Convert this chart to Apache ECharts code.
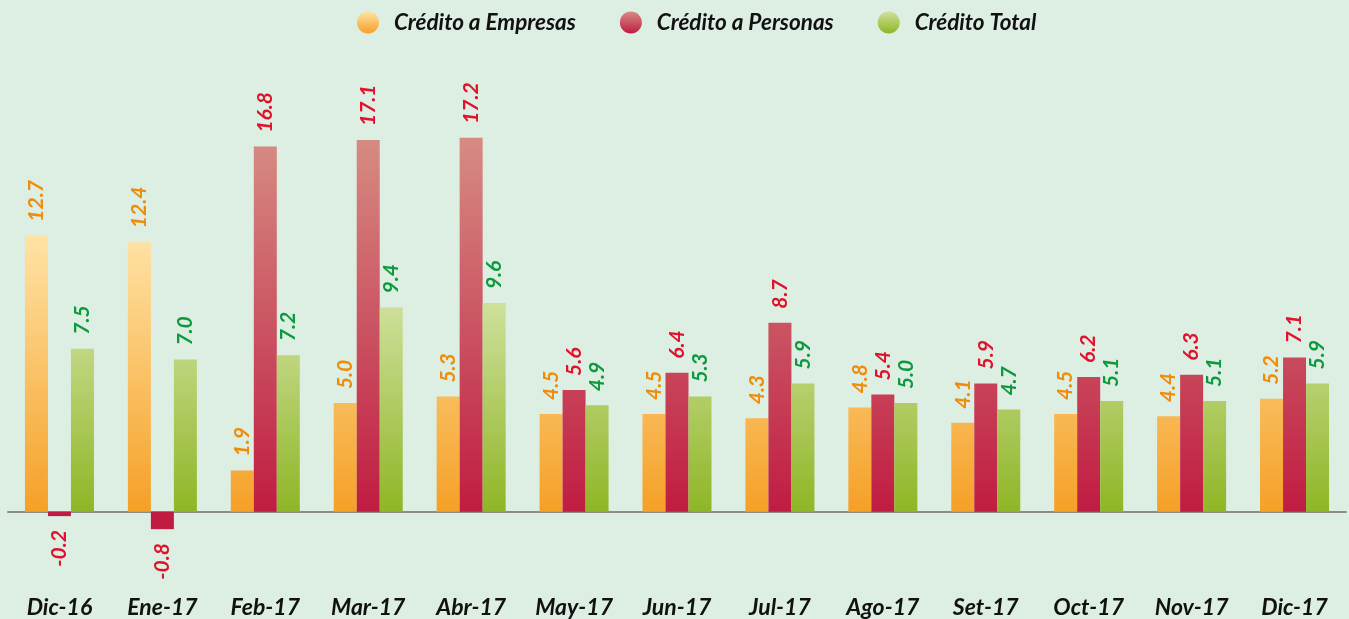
<!DOCTYPE html>
<html>
<head>
<meta charset="utf-8">
<script src="https://cdn.jsdelivr.net/npm/echarts@6/dist/echarts.min.js"></script>
<style>
  html, body { margin: 0; padding: 0; background: #ddeee2; }
  #main { width: 1349px; height: 619px; }
</style>
</head>
<body>
<div id="main"></div>
<script>
var categories = ['Dic-16', 'Ene-17', 'Feb-17', 'Mar-17', 'Abr-17', 'May-17', 'Jun-17', 'Jul-17', 'Ago-17', 'Set-17', 'Oct-17', 'Nov-17', 'Dic-17']
var empresas = [12.7, 12.4, 1.9, 5.0, 5.3, 4.5, 4.5, 4.3, 4.8, 4.1, 4.5, 4.4, 5.2]
var personas = [-0.2, -0.8, 16.8, 17.1, 17.2, 5.6, 6.4, 8.7, 5.4, 5.9, 6.2, 6.3, 7.1]
var total = [7.5, 7.0, 7.2, 9.4, 9.6, 4.9, 5.3, 5.9, 5.0, 4.7, 5.1, 5.1, 5.9]
var seriesNames = ['Crédito a Empresas', 'Crédito a Personas', 'Crédito Total']

var chart = echarts.init(document.getElementById('main'))

// colores: [arriba, abajo, etiqueta]
var colors = [
  ['#ffe3a6', '#f5a027', '#ef8c0a'],
  ['#d68c82', '#c01c42', '#e0122c'],
  ['#cfe09c', '#8fb626', '#0d9a3e']
]
var font = 'Lato, "Open Sans", sans-serif'

function items(data) {
  return data.map(function (v) {
    if (v < 0) {
      return { value: v, label: { position: 'bottom', align: 'right' } }
    }
    return v
  })
}

function makeSeries(idx, data, grad) {
  return {
    name: seriesNames[idx],
    type: 'bar',
    barWidth: 23,
    barGap: '0%',
    data: items(data),
    itemStyle: { color: grad || colors[idx][1] },
    label: {
      show: true,
      position: 'top',
      rotate: 90,
      align: 'left',
      verticalAlign: 'middle',
      distance: 14,
      formatter: function (p) { return '{v|' + p.value.toFixed(1) + '}' },
      rich: {
        v: {
          color: colors[idx][2],
          fontFamily: font,
          fontWeight: 'bold',
          fontStyle: 'italic',
          fontSize: 21
        }
      }
    }
  }
}

function legendIcon(idx) {
  return new echarts.graphic.LinearGradient(0, 0, 0, 1, [
    { offset: 0, color: colors[idx][0] },
    { offset: 1, color: colors[idx][1] }
  ])
}

var option = {
  backgroundColor: '#ddeee2',
  animation: false,
  legend: {
    top: 6,
    left: 352,
    itemWidth: 22,
    itemHeight: 22,
    itemGap: 44,
    icon: 'circle',
    data: seriesNames.map(function (n, i) {
      return { name: n, itemStyle: { color: legendIcon(i) } }
    }),
    textStyle: {
      color: '#111',
      fontFamily: font,
      fontWeight: 'bold',
      fontStyle: 'italic',
      fontSize: 22.5,
      padding: [0, 0, 0, 10]
    }
  },
  grid: { left: 8, right: 3, top: 77, bottom: 42, outerBoundsMode: 'none' },
  xAxis: {
    type: 'category',
    data: categories,
    axisTick: { show: false },
    axisLine: { lineStyle: { color: '#8c8c8c', width: 2 } },
    axisLabel: {
      margin: 19,
      color: '#111',
      fontFamily: font,
      fontWeight: 'bold',
      fontStyle: 'italic',
      fontSize: 23
    }
  },
  yAxis: {
    type: 'value',
    min: -3,
    max: 20,
    show: false,
    splitLine: { show: false }
  },
  series: [
    makeSeries(0, empresas),
    makeSeries(1, personas),
    makeSeries(2, total)
  ]
}
chart.setOption(option)

// degradado global: de la barra mas alta de cada serie hasta el cero
var allData = [empresas, personas, total]
var y0 = chart.convertToPixel({ yAxisIndex: 0 }, 0)
option.series = allData.map(function (d, i) {
  var yTop = chart.convertToPixel({ yAxisIndex: 0 }, Math.max.apply(null, d))
  var grad = new echarts.graphic.LinearGradient(0, yTop, 0, y0, [
    { offset: 0, color: colors[i][0] },
    { offset: 1, color: colors[i][1] }
  ], true)
  return makeSeries(i, d, grad)
})
chart.setOption(option)
</script>
</body>
</html>
